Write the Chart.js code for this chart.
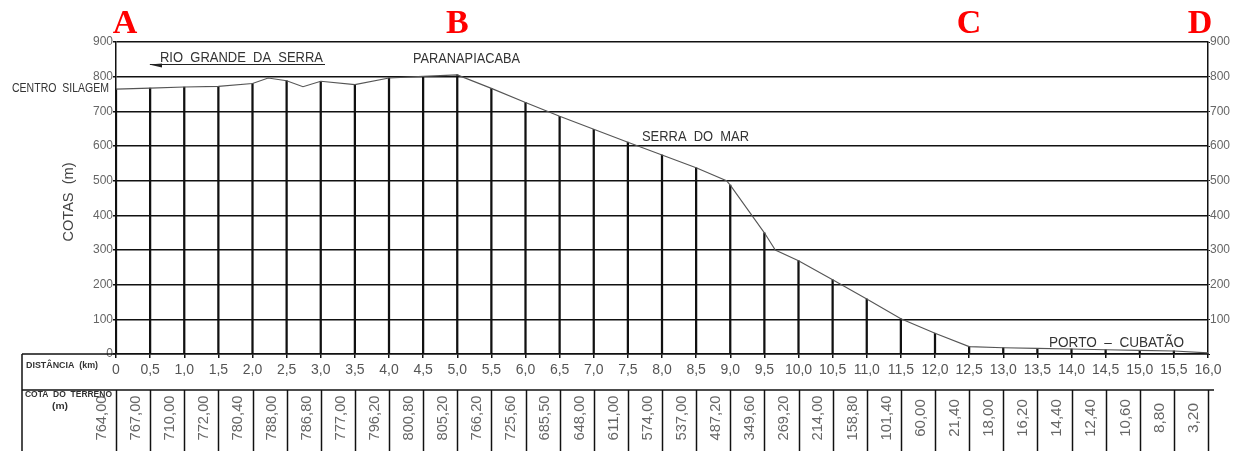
<!DOCTYPE html>
<html>
<head>
<meta charset="utf-8">
<script src="https://cdn.jsdelivr.net/npm/chart.js@4.4.0/dist/chart.umd.min.js"></script>
<style>
  html, body { margin: 0; padding: 0; background: #fff; }
  canvas { display: block; }
</style>
</head>
<body>
<canvas id="profile" width="1242" height="451"></canvas>
<script>
// ------------------ data read off the section ------------------
// distance of every table column (km)
const distances = [0, 0.5, 1.0, 1.5, 2.0, 2.5, 3.0, 3.5, 4.0, 4.5, 5.0, 5.5, 6.0, 6.5, 7.0, 7.5, 8.0,
  8.5, 9.0, 9.5, 10.0, 10.5, 11.0, 11.5, 12.0, 12.5, 13.0, 13.5, 14.0, 14.5, 15.0, 15.5, 16.0];
// elevation as drawn by the verticals (m) - the 1,0 km line is drawn near 770
const elevations = [764, 767, 770, 772, 780.4, 788, 786.8, 777, 796.2, 800.8, 805.2, 766.2, 725.6,
  685.5, 648, 611, 574, 537, 487.2, 349.6, 269.2, 214, 158.8, 101.4, 60, 21.4, 18, 16.2, 14.4,
  12.4, 10.6, 8.8, 3.2];
// "COTA DO TERRENO" row, as printed
const cotaLabels = ['764,00', '767,00', '710,00', '772,00', '780,40', '788,00', '786,80', '777,00',
  '796,20', '800,80', '805,20', '766,20', '725,60', '685,50', '648,00', '611,00', '574,00',
  '537,00', '487,20', '349,60', '269,20', '214,00', '158,80', '101,40', '60,00', '21,40', '18,00',
  '16,20', '14,40', '12,40', '10,60', '8,80', '3,20'];
// extra break points of the terrain line between columns
const bendDistances = [2.23, 2.74, 8.945, 9.66];
const bendElevations = [796, 771, 500, 300];
// y axis ticks (m)
const cotaTicks = [0, 100, 200, 300, 400, 500, 600, 700, 800, 900];
// section points
const pointNames = ['A', 'B', 'C', 'D'];
const pointDistances = [0, 5.0, 12.5, 16.0];

// ------------------ build datasets ------------------
const columnPoints = distances.map((d, i) => ({ x: d, y: elevations[i] }));
const profilePoints = columnPoints
  .concat(bendDistances.map((d, i) => ({ x: d, y: bendElevations[i] })))
  .sort((a, b) => a.x - b.x);

function kmLabel(v) {
  if (v === 0) return '0';
  return v.toFixed(1).replace('.', ',');
}

// text squeezed / stretched to a given width (CAD fonts are wide)
function fitText(ctx, text, cx, cy, width, font, color, rotated) {
  ctx.save();
  ctx.translate(cx, cy);
  if (rotated) ctx.rotate(-Math.PI / 2);
  ctx.font = font;
  ctx.fillStyle = color;
  ctx.textAlign = 'center';
  ctx.textBaseline = 'middle';
  const w = ctx.measureText(text).width;
  ctx.scale(width / w, 1);
  ctx.fillText(text, 0, 0);
  ctx.restore();
}

function line(ctx, x1, y1, x2, y2) {
  ctx.beginPath();
  ctx.moveTo(x1, y1);
  ctx.lineTo(x2, y2);
  ctx.stroke();
}

const sheetPlugin = {
  id: 'sheet',
  afterDraw(chart) {
    const ctx = chart.ctx;
    const xs = chart.scales.x;
    const area = chart.chartArea;
    const txt = '#333';
    const sans = '"Liberation Sans", Arial, sans-serif';

    // labels inside the profile
    fitText(ctx, 'RIO  GRANDE  DA  SERRA', 241.5, 58, 163, '14px ' + sans, txt);
    ctx.strokeStyle = '#222';
    ctx.lineWidth = 1.2;
    line(ctx, 150, 64.5, 325, 64.5);
    ctx.fillStyle = '#222';
    ctx.beginPath();
    ctx.moveTo(149, 64.5);
    ctx.lineTo(162, 63.5);
    ctx.lineTo(162, 67.5);
    ctx.closePath();
    ctx.fill();
    fitText(ctx, 'PARANAPIACABA', 466.5, 59.5, 107, '14px ' + sans, txt);
    fitText(ctx, 'SERRA  DO  MAR', 695.5, 137.5, 107, '14px ' + sans, txt);
    fitText(ctx, 'PORTO  –  CUBATÃO', 1116.5, 343, 135, '14px ' + sans, txt);
    fitText(ctx, 'CENTRO  SILAGEM', 60.5, 89, 97, '12px ' + sans, txt);
    fitText(ctx, 'COTAS  (m)', 69, 202, 79, '15px ' + sans, '#444', true);

    // red section letters
    ctx.save();
    ctx.font = 'bold 34px "Liberation Serif", "Times New Roman", serif';
    ctx.fillStyle = '#f00';
    ctx.textAlign = 'center';
    ctx.textBaseline = 'middle';
    pointNames.forEach((name, i) => {
      let px = xs.getPixelForValue(pointDistances[i]);
      px = Math.min(Math.max(px, area.left + 9), area.right - 8);
      ctx.fillText(name, px, 24);
    });
    ctx.restore();

    // table under the axis
    const top = area.bottom;
    const mid = 390;
    const bottom = chart.height;
    ctx.strokeStyle = '#111';
    ctx.lineWidth = 1.5;
    line(ctx, 22, top, 22, bottom);
    line(ctx, 22, top, area.left, top);
    line(ctx, 22, mid, area.right + 6, mid);
    distances.forEach(d => {
      const px = Math.round(xs.getPixelForValue(d)) + 0.5;
      line(ctx, px, mid, px, bottom);
    });
    fitText(ctx, 'DISTÂNCIA  (km)', 62, 366, 72, 'bold 9px ' + sans, txt);
    fitText(ctx, 'COTA  DO  TERRENO', 68.5, 395, 87, 'bold 9px ' + sans, txt);
    fitText(ctx, '(m)', 60, 406.5, 16, 'bold 9px ' + sans, txt);

    distances.forEach((d, i) => {
      const px = xs.getPixelForValue(d) - 14;
      const len = cotaLabels[i].length * 7.5;
      fitText(ctx, cotaLabels[i], px, 418, len, '14px ' + sans, '#666', true);
    });
  }
};

new Chart(document.getElementById('profile'), {
  type: 'line',
  data: {
    datasets: [
      {
        type: 'line',
        data: profilePoints,
        borderColor: '#555',
        borderWidth: 1.1,
        pointRadius: 0,
        tension: 0,
        order: 0
      },
      {
        type: 'bar',
        data: columnPoints,
        backgroundColor: '#111',
        barThickness: 1.6,
        order: 1
      }
    ]
  },
  options: {
    responsive: false,
    animation: false,
    layout: { padding: { top: 42, bottom: 0, left: 0, right: 0 } },
    plugins: { legend: { display: false }, tooltip: { enabled: false } },
    scales: {
      x: {
        type: 'linear',
        min: 0,
        max: 16,
        offset: false,
        afterFit: s => { s.height = 97; },
        grid: { drawOnChartArea: false, offset: false, color: '#111', lineWidth: 1.5, tickLength: 4 },
        border: { color: '#111', width: 1.5 },
        ticks: {
          stepSize: 0.5,
          maxTicksLimit: 40,
          autoSkip: false,
          maxRotation: 0,
          padding: 4,
          color: '#555',
          font: { family: '"Liberation Sans", Arial, sans-serif', size: 14 },
          callback: v => kmLabel(v)
        }
      },
      y: {
        position: 'left',
        min: 0,
        max: 900,
        afterFit: s => { s.width = 116; },
        afterBuildTicks: s => { s.ticks = cotaTicks.map(v => ({ value: v })); },
        grid: { color: '#111', lineWidth: 1.5, tickLength: 3 },
        border: { color: '#111', width: 1.5 },
        ticks: {
          padding: 0,
          color: '#666',
          font: { family: '"Liberation Sans", Arial, sans-serif', size: 12 }
        }
      },
      y2: {
        position: 'right',
        min: 0,
        max: 900,
        afterFit: s => { s.width = 34; },
        afterBuildTicks: s => { s.ticks = cotaTicks.map(v => ({ value: v })); },
        grid: { drawOnChartArea: false, color: '#111', tickLength: 2 },
        border: { color: '#111', width: 1.5 },
        ticks: {
          padding: 0,
          color: '#666',
          font: { family: '"Liberation Sans", Arial, sans-serif', size: 12 },
          callback: v => (v === 0 ? '' : v)
        }
      }
    }
  },
  plugins: [sheetPlugin]
});
</script>
</body>
</html>
